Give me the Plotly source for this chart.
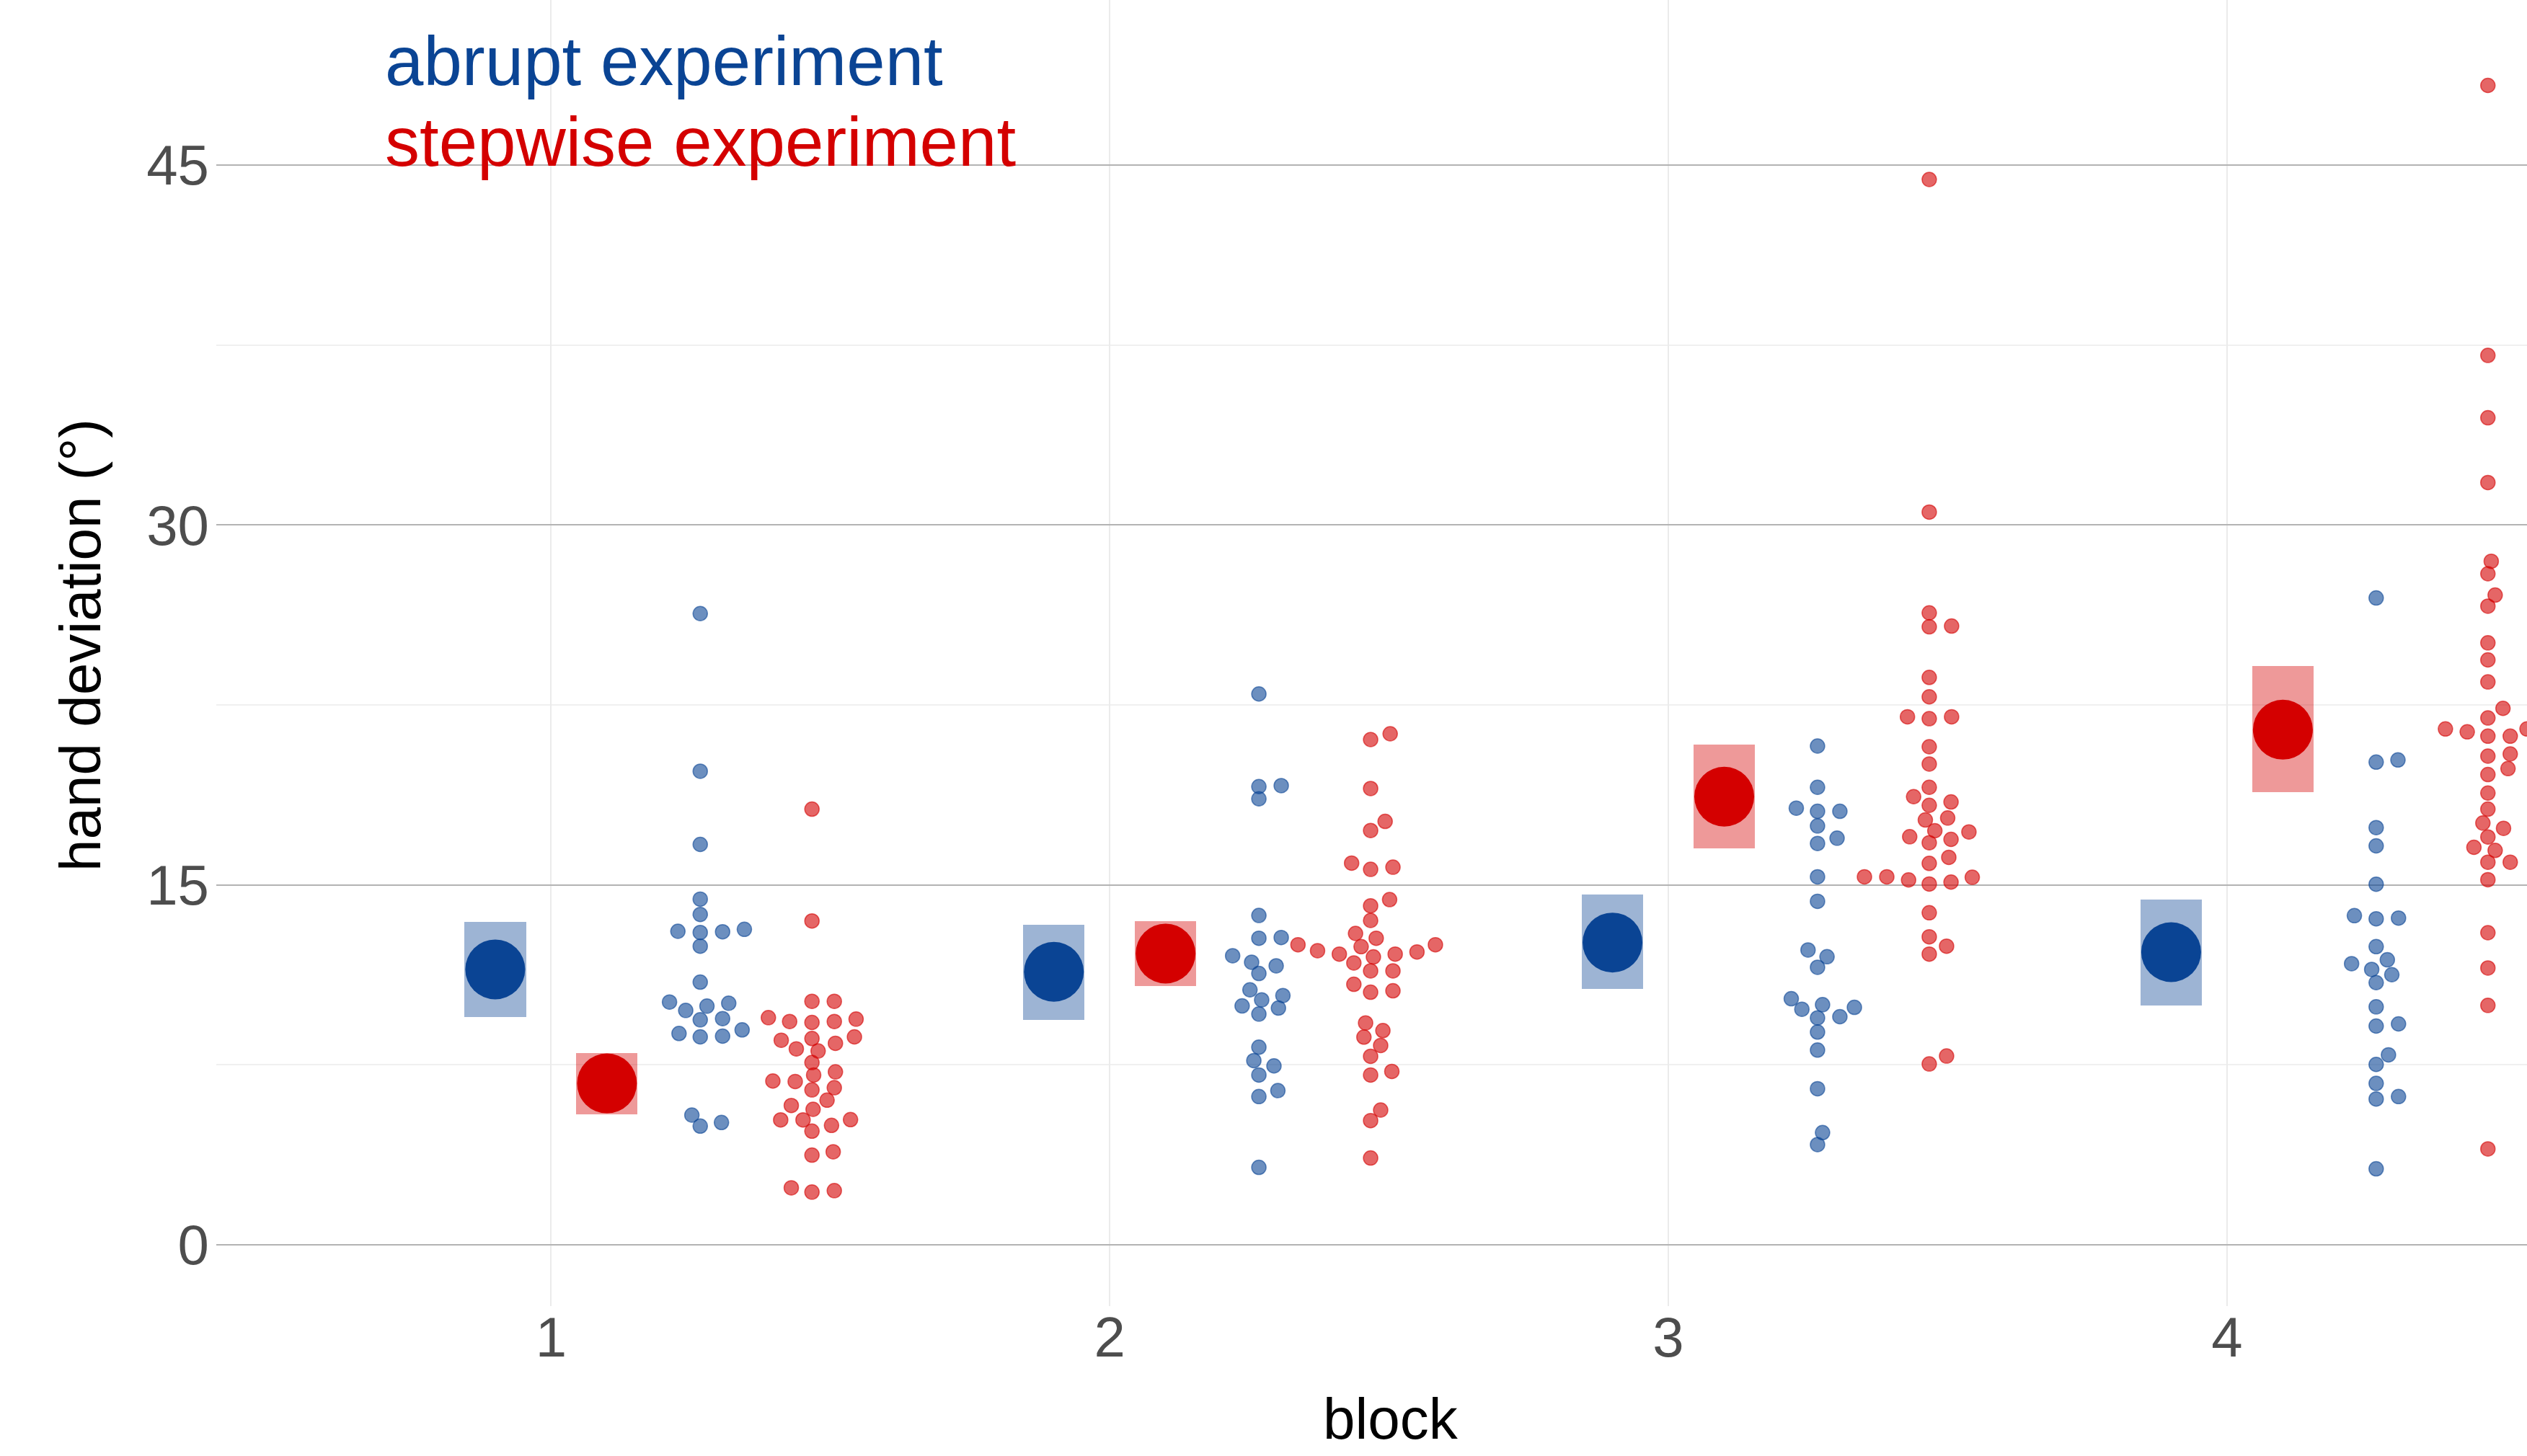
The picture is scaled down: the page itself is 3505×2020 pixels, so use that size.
import plotly.graph_objects as go

blocks = [1, 2, 3, 4]
tick_labels = ["1", "2", "3", "4"]

# group means and confidence intervals
abrupt_mean = [11.48, 11.38, 12.60, 12.20]
abrupt_lo = [9.49, 9.37, 10.66, 9.98]
abrupt_hi = [13.46, 13.34, 14.60, 14.40]
stepwise_mean = [6.73, 12.14, 18.68, 21.47]
stepwise_lo = [5.45, 10.78, 16.51, 18.86]
stepwise_hi = [7.99, 13.49, 20.84, 24.11]

# individual participants (beeswarm offsets, in x units)
abrupt_b1_y = [26.31, 19.74, 16.69, 14.41, 13.77, 13.07, 13.02, 13.05, 13.15, 12.45, 10.95, 10.12,
               9.77, 9.95, 10.07, 9.38, 9.43, 8.81, 8.67, 8.70, 8.96, 5.41, 4.95, 5.10]
abrupt_b1_dx = [0, 0, 0, 0, 0, -0.040, 0, 0.040, 0.079, 0, 0, -0.055,
                -0.026, 0.012, 0.051, 0, 0.040, -0.038, 0, 0.040, 0.075, -0.015, 0, 0.038]
stepwise_b1_y = [18.16, 13.50, 10.15, 10.15, 9.47, 9.31, 9.27, 9.31, 9.41, 8.53, 8.60, 8.40, 8.67,
                 8.17, 8.08, 7.60, 7.08, 7.21, 6.83, 6.81, 6.46, 6.55, 6.03, 5.81, 5.65, 5.21,
                 5.21, 4.98, 5.22, 4.74, 3.74, 3.88, 2.38, 2.20, 2.26]
stepwise_b1_dx = [0, 0, 0, 0.040, -0.078, -0.040, 0, 0.040, 0.079, -0.055, 0, 0.042, 0.076,
                  -0.028, 0.011, 0, 0.003, 0.042, -0.070, -0.030, 0, 0.040, 0.027, -0.037, 0.002, -0.056,
                  -0.016, 0.035, 0.069, 0, 0, 0.038, -0.037, 0, 0.040]

abrupt_b2_y = [22.96, 19.10, 19.14, 18.59, 13.73, 12.78, 12.81, 12.05, 11.78, 11.63, 11.31, 10.63,
               10.39, 10.21, 9.96, 9.87, 9.62, 8.24, 7.68, 7.46, 7.08, 6.43, 6.18, 3.23]
abrupt_b2_dx = [0, 0, 0.040, 0, 0, 0, 0.040, -0.047, -0.013, 0.031, 0, -0.016,
                0.043, 0.005, -0.030, 0.035, 0, 0, -0.009, 0.027, 0, 0.034, 0, 0]
stepwise_b2_y = [21.30, 21.06, 19.02, 17.65, 17.27, 15.91, 15.65, 15.74, 14.39, 14.13, 13.52, 12.98,
                 12.78, 12.51, 12.26, 12.12, 12.43, 12.00, 12.12, 12.21, 12.51, 11.75, 11.42, 11.42,
                 10.86, 10.53, 10.59, 9.25, 8.93, 8.66, 8.31, 7.86, 7.08, 7.23, 5.62, 5.18, 3.62]
stepwise_b2_dx = [0.035, 0, 0, 0.026, 0, -0.034, 0, 0.040, 0.034, 0, 0, -0.027,
                  0.010, -0.130, -0.095, -0.056, -0.017, 0.005, 0.044, 0.083, 0.116, -0.030, 0, 0.040,
                  -0.030, 0, 0.040, -0.009, 0.022, -0.012, 0.018, 0, 0, 0.038, 0.018, 0, 0]

abrupt_b3_y = [20.79, 19.07, 18.20, 18.07, 18.07, 17.46, 16.95, 16.73, 15.34, 14.32, 12.29, 12.01,
               11.57, 10.26, 9.82, 10.01, 9.90, 9.46, 9.51, 8.87, 8.12, 6.51, 4.68, 4.18]
abrupt_b3_dx = [0, 0, -0.038, 0, 0.040, 0, 0.035, 0, 0, 0, -0.017, 0.017,
                0, -0.047, -0.028, 0.009, 0.066, 0, 0.040, 0, 0, 0, 0.009, 0]
stepwise_b3_y = [44.40, 30.54, 26.34, 25.76, 25.79, 23.65, 22.84, 22.01, 21.93, 22.01, 20.76, 20.04,
                 19.07, 18.68, 18.32, 18.46, 17.71, 17.79, 17.26, 17.21, 17.01, 16.76, 16.90, 16.15,
                 15.90, 15.34, 15.34, 15.21, 15.04, 15.12, 15.32, 13.84, 12.84, 12.45, 12.12, 7.87, 7.54]
stepwise_b3_dx = [0, 0, 0, 0, 0.040, 0, 0, -0.039, 0, 0.040, 0, 0,
                  0, -0.028, 0, 0.039, -0.007, 0.033, 0.010, 0.071, -0.035, 0, 0.039, 0.035,
                  0, -0.116, -0.076, -0.037, 0, 0.039, 0.077, 0, 0, 0.031, 0, 0.031, 0]

abrupt_b4_y = [26.96, 20.12, 20.21, 17.39, 16.63, 15.03, 13.72, 13.59, 13.62, 12.43, 11.72, 11.88,
               11.48, 11.26, 10.93, 9.92, 9.12, 9.21, 7.92, 7.52, 6.73, 6.08, 6.18, 3.17]
abrupt_b4_dx = [0, 0, 0.039, 0, 0, 0, -0.039, 0, 0.040, 0, -0.044, 0.020,
                -0.008, 0.028, 0, 0, 0, 0.040, 0.022, 0, 0, 0, 0.040, 0]
stepwise_b4_y = [48.32, 37.07, 34.47, 31.77, 28.49, 27.97, 27.08, 26.62, 25.09, 24.38, 23.46, 22.36,
                 21.96, 21.50, 21.38, 21.50, 21.20, 21.20, 20.46, 20.37, 19.85, 19.60, 18.83, 18.16,
                 17.58, 17.36, 17.00, 16.57, 16.44, 15.95, 15.95, 15.22, 13.01, 11.54, 9.98, 4.00]
stepwise_b4_dx = [0, 0, 0, 0, 0.006, 0, 0.013, 0, 0, 0, 0, 0.027,
                  0, -0.076, -0.037, 0.070, 0, 0.040, 0.040, 0, 0.036, 0, 0, 0,
                  -0.009, 0.028, 0, -0.025, 0.013, 0, 0.040, 0, 0, 0, 0, 0]

abrupt_y = [abrupt_b1_y, abrupt_b2_y, abrupt_b3_y, abrupt_b4_y]
abrupt_dx = [abrupt_b1_dx, abrupt_b2_dx, abrupt_b3_dx, abrupt_b4_dx]
stepwise_y = [stepwise_b1_y, stepwise_b2_y, stepwise_b3_y, stepwise_b4_y]
stepwise_dx = [stepwise_b1_dx, stepwise_b2_dx, stepwise_b3_dx, stepwise_b4_dx]

BLUE = "#0A4494"
RED = "#D40000"
BLUE_A = "rgba(10,68,148,0.6)"
RED_A = "rgba(212,0,0,0.6)"
BLUE_R = "rgba(10,68,148,0.4)"
RED_R = "rgba(212,0,0,0.4)"

FONT = "Liberation Sans, Arial, sans-serif"

fig = go.Figure()

# CI rectangles as bars
fig.add_trace(go.Bar(x=[b - 0.1 for b in blocks],
                     y=[h - l for h, l in zip(abrupt_hi, abrupt_lo)],
                     base=abrupt_lo, width=0.11, marker=dict(color=BLUE_R, line=dict(width=0)),
                     showlegend=False, hoverinfo="skip"))
fig.add_trace(go.Bar(x=[b + 0.1 for b in blocks],
                     y=[h - l for h, l in zip(stepwise_hi, stepwise_lo)],
                     base=stepwise_lo, width=0.11, marker=dict(color=RED_R, line=dict(width=0)),
                     showlegend=False, hoverinfo="skip"))

# means
fig.add_trace(go.Scatter(x=[b - 0.1 for b in blocks], y=abrupt_mean, mode="markers",
                         marker=dict(size=83, color=BLUE, line=dict(width=0)), showlegend=False))
fig.add_trace(go.Scatter(x=[b + 0.1 for b in blocks], y=stepwise_mean, mode="markers",
                         marker=dict(size=83, color=RED, line=dict(width=0)), showlegend=False))

# individual participants
ax, ay, sx, sy = [], [], [], []
for b, ys, dxs in zip(blocks, abrupt_y, abrupt_dx):
    ax += [b + 0.267 + d for d in dxs]
    ay += ys
for b, ys, dxs in zip(blocks, stepwise_y, stepwise_dx):
    sx += [b + 0.467 + d for d in dxs]
    sy += ys

fig.add_trace(go.Scatter(x=ax, y=ay, mode="markers",
                         marker=dict(size=20, color=BLUE_A, line=dict(width=1.5, color=BLUE_A)),
                         showlegend=False))
fig.add_trace(go.Scatter(x=sx, y=sy, mode="markers",
                         marker=dict(size=20, color=RED_A, line=dict(width=1.5, color=RED_A)),
                         showlegend=False))

# legend-like labels
fig.add_annotation(x=0.7, y=49.35, xref="x", yref="y", text="abrupt experiment",
                   showarrow=False, xanchor="left", yanchor="middle",
                   font=dict(family=FONT, size=96, color=BLUE))
fig.add_annotation(x=0.7, y=45.99, xref="x", yref="y", text="stepwise experiment",
                   showarrow=False, xanchor="left", yanchor="middle",
                   font=dict(family=FONT, size=96, color=RED))

# axis titles
fig.add_annotation(x=0.5082, y=-0.0866, xref="paper", yref="paper", text="block",
                   showarrow=False, xanchor="center", yanchor="middle",
                   font=dict(family=FONT, size=80, color="black"))
fig.add_annotation(x=-0.0590, y=0.506, xref="paper", yref="paper", text="hand deviation (°)",
                   showarrow=False, xanchor="center", yanchor="middle", textangle=-90,
                   font=dict(family=FONT, size=80, color="black"))

fig.update_layout(
    width=3505, height=2020, autosize=False,
    margin=dict(l=300, r=0, t=0, b=208, pad=0),
    paper_bgcolor="white", plot_bgcolor="white",
    barmode="overlay", bargap=0,
    font=dict(family=FONT),
    xaxis=dict(range=[0.4007, 4.537], tickmode="array", tickvals=blocks, ticktext=tick_labels,
               showgrid=True, gridcolor="#EBEBEB", gridwidth=2, zeroline=False, showline=False,
               ticks="", ticklabelstandoff=-9,
               tickfont=dict(size=78, color="#4D4D4D", family=FONT)),
    yaxis=dict(range=[-2.55, 51.88], tickmode="array", tickvals=[0, 15, 30, 45],
               ticktext=["0", "15", "30", "45"],
               showgrid=True, gridcolor="#B3B3B3", gridwidth=2, zeroline=False, showline=False,
               ticks="", ticklabelstandoff=9,
               tickfont=dict(size=78, color="#4D4D4D", family=FONT),
               minor=dict(tick0=0, dtick=7.5, showgrid=True, gridcolor="#F0F0F0", gridwidth=1.5)),
)

fig.write_html("out.html", config={"displayModeBar": False},
               post_script="document.body.style.margin='0';")
